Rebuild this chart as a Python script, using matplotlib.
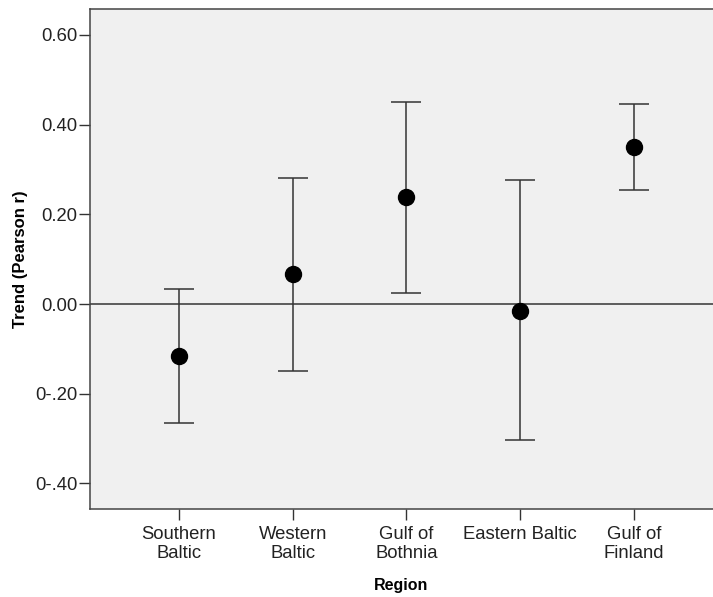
import matplotlib
matplotlib.use('Agg')
from matplotlib import pyplot as plt
from matplotlib.ticker import FixedLocator, FixedFormatter

regions = ['Southern\nBaltic', 'Western\nBaltic', 'Gulf of\nBothnia', 'Eastern Baltic', 'Gulf of\nFinland']
means = [-0.116, 0.067, 0.239, -0.016, 0.350]
upper = [0.033, 0.281, 0.450, 0.277, 0.446]
lower = [-0.265, -0.149, 0.025, -0.303, 0.254]

yticks = [0.6, 0.4, 0.2, 0.0, -0.2, -0.4]
ylabels = ['0.60', '0.40', '0.20', '0.00', '0-.20', '0-.40']

plt.rcParams['font.family'] = ['Liberation Sans', 'DejaVu Sans']

fig = plt.figure(figsize=(7.13, 5.97), dpi=100)
ax = fig.add_axes([0.1262, 0.1474, 0.8738, 0.8376])
ax.set_facecolor('#f0f0f0')

x = list(range(1, len(regions) + 1))
err_lo = [m - l for m, l in zip(means, lower)]
err_hi = [u - m for m, u in zip(means, upper)]

ax.axhline(0, color='#333333', lw=1.1, zorder=1)
ax.errorbar(x, means, yerr=[err_lo, err_hi], fmt='o', color='black',
            ecolor='#333333', elinewidth=1.1, capsize=10.8, capthick=1.1,
            markersize=11.5, zorder=3)

ax.set_xlim(0.217, 5.695)
ax.set_ylim(-0.457, 0.658)
ax.xaxis.set_major_locator(FixedLocator(x))
ax.xaxis.set_major_formatter(FixedFormatter(regions))
ax.yaxis.set_major_locator(FixedLocator(yticks))
ax.yaxis.set_major_formatter(FixedFormatter(ylabels))

ax.tick_params(axis='both', direction='out', length=8, width=1, color='#333333',
               labelsize=13.3, labelcolor='#222222')
ax.tick_params(axis='x', pad=4)
ax.tick_params(axis='y', pad=1)
for s in ['left', 'top', 'bottom']:
    ax.spines[s].set_color('#444444')
    ax.spines[s].set_linewidth(1.1)
ax.spines['right'].set_visible(False)

ax.set_xlabel('Region', fontsize=11.5, fontweight='bold', labelpad=11)
ax.set_ylabel('Trend (Pearson r)', fontsize=12, fontweight='bold', labelpad=5)

fig.savefig('out.png', dpi=100)
